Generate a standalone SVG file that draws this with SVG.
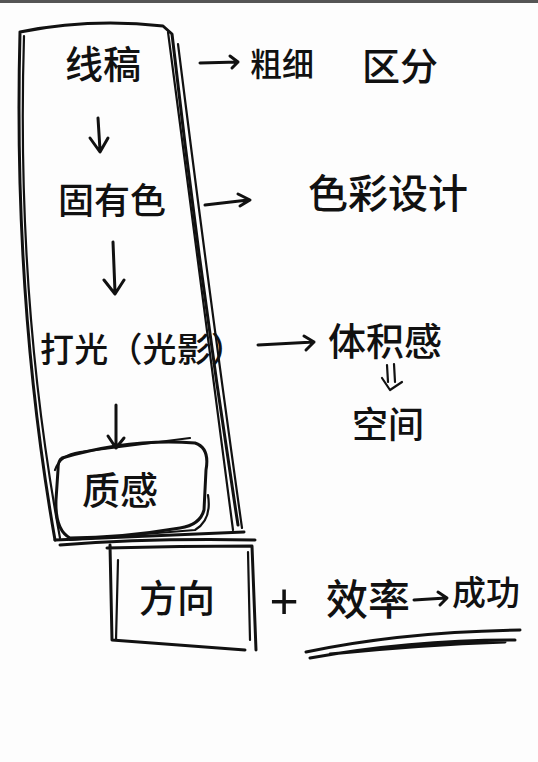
<svg xmlns="http://www.w3.org/2000/svg" width="538" height="762" viewBox="0 0 538 762">
<style>
.s{fill:none;stroke:#111;stroke-width:3;stroke-linecap:round;stroke-linejoin:round}
.t{stroke-width:2.2}
.h{font-family:"Noto Sans CJK SC","Noto Sans CJK TC",sans-serif;fill:#111;font-weight:500}
</style>
<rect width="538" height="762" fill="#fdfdfd"/>
<rect width="538" height="3" fill="#555"/>
<g id="outer-box">
<path class="s" d="M20,32 Q90,18 163,26 L172,34 Q200,280 238,525 M20,32 Q13,300 55,540"/>
<path class="s t" d="M24,36 Q16,300 60,538 M168,32 Q202,300 233,530 M178,44 Q210,300 242,528"/>
<path class="s" d="M55,540 Q150,536 244,532 M60,545 Q150,538 255,540"/>
</g>
<g id="n-lineart"><text class="h" x="103" y="78" font-size="38" text-anchor="middle">线稿</text></g>
<g id="n-thick"><text class="h" x="282" y="76" font-size="32" text-anchor="middle">粗细</text><text class="h" x="400" y="80" font-size="38" text-anchor="middle">区分</text></g>
<g id="n-color"><text class="h" x="112" y="214" font-size="36" text-anchor="middle">固有色</text></g>
<g id="n-colordesign"><text class="h" x="388" y="208" font-size="40" text-anchor="middle">色彩设计</text></g>
<g id="n-light"><text class="h" x="40" y="362" font-size="34" textLength="205" lengthAdjust="spacing">打光（光影）</text></g>
<g id="n-volume"><text class="h" x="385" y="355" font-size="38" text-anchor="middle">体积感</text></g>
<g id="n-space"><text class="h" x="388" y="438" font-size="36" text-anchor="middle">空间</text></g>
<g id="n-texture">
<path class="s" d="M62,458 Q130,438 195,443 Q210,448 206,470 L204,510 Q200,525 180,528 Q120,538 70,538 Q55,530 56,500 L58,470 Q58,460 62,458 Z"/>
<path class="s t" d="M55,470 Q60,455 80,452 L190,438 M70,540 L195,530 Q212,520 208,495"/>
<text class="h" x="120" y="504" font-size="38" text-anchor="middle">质感</text>
</g>
<g id="n-direction">
<path class="s" d="M107,548 Q180,546 252,546 L256,650 M110,545 L112,640 Q180,645 245,650"/>
<path class="s t" d="M118,560 L116,640 M248,552 L250,640"/>
<text class="h" x="177" y="612" font-size="38" text-anchor="middle">方向</text>
</g>
<g id="n-plus"><text x="284" y="618" font-size="50" text-anchor="middle" font-family="Liberation Sans, sans-serif" fill="#111">+</text></g>
<g id="n-efficiency"><text class="h" x="368" y="615" font-size="42" text-anchor="middle">效率</text></g>
<g id="n-success"><text class="h" x="486" y="605" font-size="34" text-anchor="middle">成功</text></g>
<g id="connectors">
<path class="s" d="M200,63 L238,62 M230,56 L238,62 L232,68"/>
<path class="s" d="M98,118 L100,150 M90,138 L100,152 L108,138"/>
<path class="s" d="M205,205 L248,200 M238,194 L250,200 L240,206"/>
<path class="s" d="M113,242 L115,292 M104,280 L115,294 L124,280"/>
<path class="s" d="M258,345 L314,342 M304,336 L314,342 L306,350"/>
<path class="s t" d="M387,365 L388,382 M394,364 L395,382 M382,378 L390,390 L402,382"/>
<path class="s" d="M116,405 L116,448 M108,436 L116,448 L124,438"/>
<path class="s" d="M414,600 L446,598 M438,592 L447,598 L440,605"/>
<path class="s" d="M306,652 Q400,632 520,630 M310,658 Q410,640 515,640 M330,654 Q420,645 505,642"/>
</g>
</svg>
